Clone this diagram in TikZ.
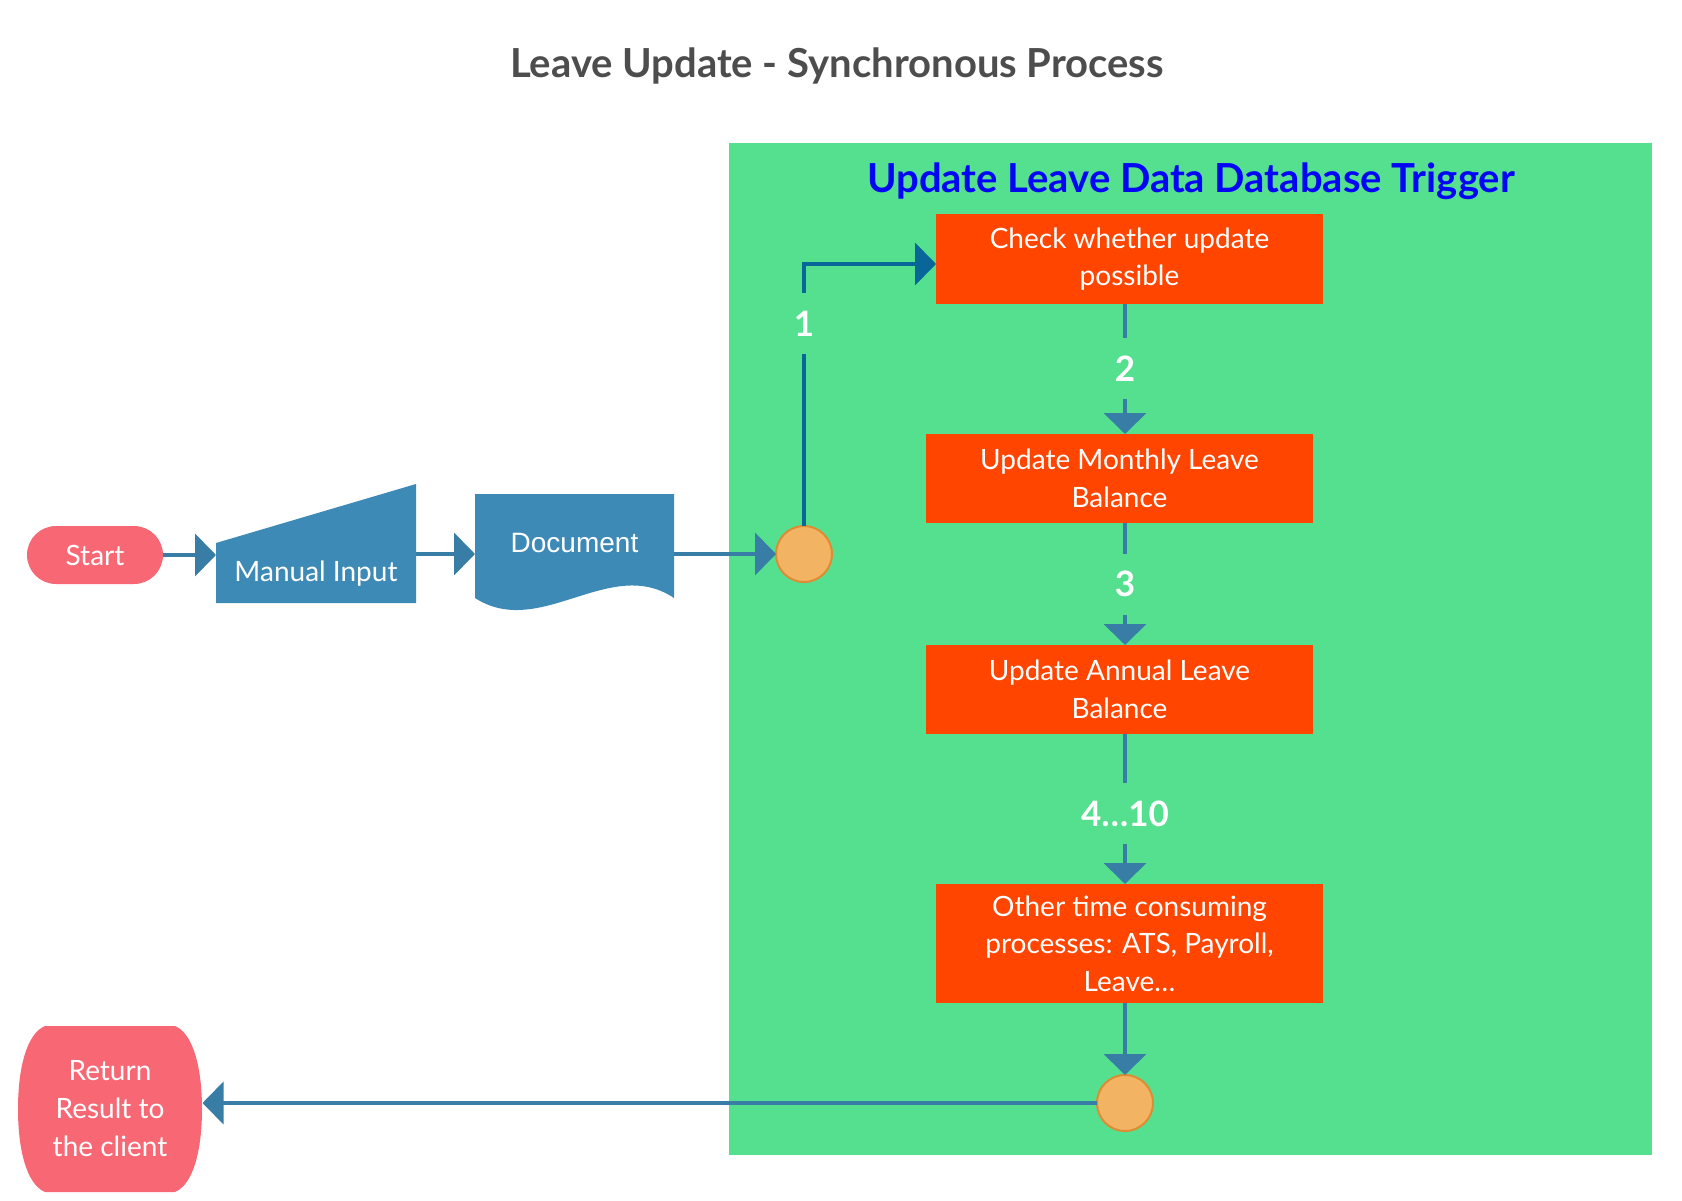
\documentclass[tikz,border=0pt]{standalone}
\usepackage{fontspec}
\setmainfont{Lato}
\newfontfamily\docfont{Liberation Sans}
\usetikzlibrary{arrows.meta,calc}
\definecolor{bggreen}{RGB}{85,224,143}
\definecolor{boxred}{RGB}{255,69,0}
\definecolor{shapeblue}{RGB}{62,138,183}
\definecolor{linkblue}{RGB}{56,125,165}
\definecolor{darklink}{RGB}{8,102,152}
\definecolor{pinkc}{RGB}{247,104,116}
\definecolor{circfill}{RGB}{242,180,98}
\definecolor{circdraw}{RGB}{222,140,52}
\definecolor{titlegray}{RGB}{77,77,77}
\definecolor{lanetitle}{RGB}{5,5,245}
\begin{document}
\begin{tikzpicture}[x=1pt,y=-1pt,
  every node/.style={inner sep=0pt,outer sep=0pt},
  bodyfont/.style={font=\fontsize{28}{37.5}\selectfont},
  stepbox/.style={fill=boxred,minimum width=387pt,minimum height=89pt,text=white,align=center,bodyfont},
  shapetext/.style={text=white,align=center,bodyfont},
  conn/.style={draw=linkblue,line width=4pt,-{Triangle[length=21pt,width=42pt]}},
  conndark/.style={conn,draw=darklink},
  lbl/.style={fill=bggreen,text=white,minimum height=61pt,inner xsep=3pt,font=\fontsize{35}{35}\bfseries\selectfont},
  joint/.style={circle,fill=circfill,draw=circdraw,line width=2pt,minimum size=56pt},
  bigtitle/.style={anchor=base,font=\fontsize{40}{44}\bfseries\selectfont}]
\useasboundingbox (0,0) rectangle (1682,1201);
\fill[white] (0,0) rectangle (1682,1201);
% swimlane
\node[fill=bggreen,minimum width=923pt,minimum height=1012pt] (lane) at (1190.5,649) {};
\node[bigtitle,text=titlegray] (title) at (837,78) {Leave Update - Synchronous Process};
\node[bigtitle,text=lanetitle] (lanehead) at (1191,193) {Update Leave Data Database Trigger};
% shapes drawn directly
\fill[shapeblue] (216,543) -- (416,484) -- (416,603) -- (216,603) -- cycle;
\fill[shapeblue] (475,494) -- (674,494) -- (674,598) .. controls (610,555) and (540,640) .. (475,598) -- cycle;
\fill[pinkc] (45,1026) -- (175,1026) .. controls (194,1034) and (202,1070) .. (202,1109)
  .. controls (202,1148) and (194,1184) .. (175,1192) -- (45,1192)
  .. controls (26,1184) and (18,1148) .. (18,1109) .. controls (18,1070) and (26,1034) .. (45,1026) -- cycle;
% nodes
\node[fill=pinkc,rounded corners=29pt,minimum width=136pt,minimum height=58pt,shapetext] (start) at (95,555) {Start};
\node[shapetext,minimum width=200pt] (mi) at (316,574) {Manual Input};
\node[shapetext,minimum width=199pt,font=\docfont\fontsize{28}{32}\selectfont] (doc) at (574.5,543) {Document};
\node[joint] (c1) at (804,554) {};
\node[stepbox] (check) at (1129.5,259) {Check whether update\\possible};
\node[stepbox] (monthly) at (1119.5,478.5) {Update Monthly Leave\\Balance};
\node[stepbox] (annual) at (1119.5,689.5) {Update Annual Leave\\Balance};
\node[stepbox,minimum height=119pt] (other) at (1129.5,943.5) {Other time consuming\\processes: ATS, Payroll,\\Leave…};
\node[joint] (c2) at (1125,1103) {};
\node[shapetext,minimum width=185pt,minimum height=166pt,font=\fontsize{28}{38}\selectfont] (ret) at (110,1109) {Return\\Result to\\the client};
% connectors
\draw[conn] (start.east) -- (mi.west |- start.east);
\draw[conn] (mi.east |- c1) -- (doc.west |- c1);
\draw[conn] (doc.east |- c1) -- (c1.west);
\draw[conndark] (c1.north) |- node[lbl,pos=0.386] {1} ([yshift=-5pt]check.west);
\draw[conn] (check.south -| c2) -- node[lbl] {2} (monthly.north -| c2);
\draw[conn] (monthly.south -| c2) -- node[lbl] {3} (annual.north -| c2);
\draw[conn] (annual.south -| c2) -- node[lbl,pos=0.53] {4…10} (other.north -| c2);
\draw[conn] (other.south -| c2) -- (c2.north);
\draw[conn] (c2.west) -- (c2.west -| ret.east);
\end{tikzpicture}
\end{document}
